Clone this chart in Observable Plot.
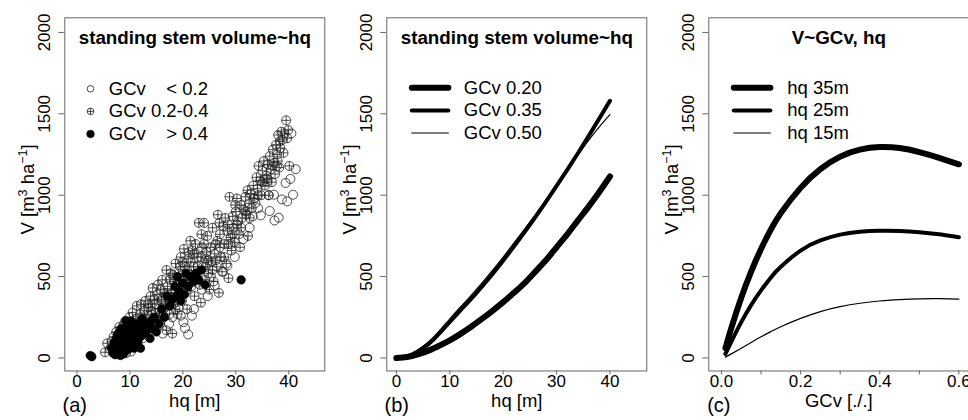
<!DOCTYPE html>
<html><head><meta charset="utf-8">
<script src="https://cdn.jsdelivr.net/npm/d3@7"></script>
<script src="https://cdn.jsdelivr.net/npm/@observablehq/plot@0.6"></script>
<style>
html,body{margin:0;padding:0;background:#fff;overflow:hidden;}
#fig{position:relative;width:968px;height:420px;overflow:hidden;font-family:"Liberation Sans",Arial,Helvetica,sans-serif;}
#fig > div{position:absolute;top:0;height:420px;}
</style></head><body><div id="fig"></div>
<script>
// ---------- data ----------
const yTicks = [0, 500, 1000, 1500, 2000];
const yTickLabels = ["0", "500", "1000", "1500", "2000"];
const hqTicks = [0, 10, 20, 30, 40];
const hqTickLabels = ["0", "10", "20", "30", "40"];
const gcvTicks = [0, 0.1, 0.2, 0.3, 0.4, 0.5, 0.6];
const gcvTickLabels = ["0.0", "", "0.2", "", "0.4", "", "0.6"];

const panelTitles = ["standing stem volume~hq", "standing stem volume~hq", "V~GCv, hq"];
const xTitles = ["hq [m]", "hq [m]", "GCv [./.]"];
const tags = ["(a)", "(b)", "(c)"];
const yTitle = "V [m3 ha-1]";

// panel (a) scatter: [hq, V]
const scatterLow = [ // GCv < 0.2
 [41.3,1160],[40.3,1100],[39.4,1075],[40.8,1003],[39.7,962],[38.7,974],[37.2,1003],[38.1,862],[37.3,845],[36.4,903],
 [34.7,876],[35.6,1101],[33.7,952],[35.9,1081],[37.8,1180],[40.5,1380],[29.8,620],[28.4,568],[26.0,445],[29.0,700],
 [25.3,500],[20.1,220],[20.4,183],[21.0,144],[19.6,260],[19.2,310],[18.5,340],[17.4,210],[16.2,150],[15.0,330],
 [13.6,260],[12.4,120],[10.8,90],[10.2,40],[9.3,30],[22.1,300],[23.6,420],[24.7,380],[27.6,530],[31.4,730],
 [32.6,800],[33.2,870],[34.2,920],[36.2,1000],[21.7,260],[20.8,420],[18.0,250],[14.4,200]
];
const scatterMid = [ // GCv 0.2-0.4
 [5.3,35],[5.7,90],[6.2,55],[6.6,100],[6.9,130],[7.1,65],[7.4,160],[7.8,110],[8.0,190],[8.3,140],[8.5,80],[8.8,170],[9.0,220],[9.2,120],[9.5,60],
 [9.7,180],[9.9,250],[10.1,130],[10.3,210],[10.5,280],[10.7,160],[10.9,90],[11.1,240],[11.3,320],[11.5,190],[11.7,140],[11.9,270],[12.1,330],[12.3,210],
 [12.5,170],[12.7,290],[12.9,350],[13.1,240],[13.3,140],[13.5,310],[13.7,200],[13.9,380],[14.1,270],[14.3,430],[14.5,180],[14.7,330],[14.9,250],[15.1,390],
 [15.3,450],[15.5,300],[15.7,210],[15.9,350],[16.1,480],[16.3,260],[16.5,400],[16.7,320],[16.9,170],[17.1,440],[17.3,360],[17.5,270],[17.7,520],[17.9,400],[18.0,150],[18.2,330],
 [18.4,470],[18.6,580],[18.8,380],[19.0,270],[19.2,520],[19.4,430],[19.6,620],[19.8,350],[20.0,480],[20.2,670],[20.4,560],[20.6,410],[20.8,300],[21.0,610],[21.2,500],
 [21.4,720],[21.6,440],[21.8,660],[22.0,560],[22.2,380],[22.4,700],[22.6,500],[22.8,620],[23.0,830],[23.2,450],[23.4,340],[23.6,680],[23.8,560],[24.0,830],[24.2,480],[24.4,610],
 [24.6,750],[24.8,520],[25.0,420],[25.2,680],[25.4,590],[25.6,800],[25.8,470],[26.0,640],[26.2,700],[26.4,560],[26.6,880],[26.8,400],[27.0,760],[27.2,620],[27.4,530],
 [27.6,810],[27.8,700],[28.0,860],[28.2,580],[28.4,780],[28.6,490],[28.8,990],[29.0,740],[29.2,660],[29.4,870],[29.6,800],[29.8,710],[30.0,900],[30.2,980],[30.4,840],
 [30.6,760],[30.8,680],[31.0,940],[31.2,860],[31.5,910],[31.8,990],[32.0,880],[32.3,750],[32.5,950],[32.8,1010],[33.0,920],[33.3,1060],
 [33.6,980],[33.9,1110],[34.1,1040],[34.3,1180],[34.6,1090],[34.8,1000],[35.0,1150],[35.3,1210],[35.5,1060],[35.8,1120],[36.0,1190],[36.2,1000],[36.4,1240],
 [36.6,1160],[36.8,1080],[37.0,1280],[37.2,1200],[37.4,1130],[37.6,1310],[37.8,1250],[38.0,1370],[38.2,1170],[38.4,1290],[38.6,1390],[38.8,1340],[39.0,1260],[39.2,1380],[39.5,1460],[39.7,1350],[39.9,1400],[40.1,1180],[38.3,1330],[37.9,1210],
 [14.0,290],[16.0,360],[18.5,420],[20.5,460],[22.5,520],[19.5,560],[21.5,590],[17.5,480],[15.5,260],[13.0,200],[11.0,170],[24.5,650],[26.5,720],[28.5,820],[23.5,760],
 [12.2,250],[13.4,330],[14.6,360],[15.8,420],[16.4,300],[17.0,400],[17.8,350],[18.6,300],[19.4,480],[20.2,420],[20.8,540],[21.6,480],[22.2,640],[22.8,560],[23.4,620],
 [24.0,700],[24.8,600],[25.6,540],[26.2,600],[27.0,680],[27.8,620],[28.6,700],[29.4,760],[30.2,820],[31.0,800],[31.8,900],[32.6,860],[33.4,980],[34.2,1000],[35.0,1080],
 [36.0,1100],[37.0,1180],[19.9,590],[21.1,650],[16.9,540],[18.1,510],[24.3,560],[26.9,830],[29.9,940],[32.2,1030]
];
const scatterHigh = [ // GCv > 0.4
 [2.5,15],[2.8,8],[6.5,60],[6.8,30],[7.0,95],[7.2,20],[7.4,50],[7.5,125],[7.7,70],[7.8,150],[8.0,30],[8.1,100],[8.3,180],[8.5,60],[8.6,135],[8.8,25],
 [9.0,90],[9.1,165],[9.2,230],[9.4,110],[9.6,50],[9.7,195],[9.9,140],[10.0,80],[10.2,225],[10.4,120],[10.6,175],[10.8,60],[11.0,140],[11.3,210],[11.5,100],
 [11.8,170],[12.0,130],[12.3,240],[12.6,190],[13.0,150],[13.4,210],[13.8,120],[14.2,180],[14.6,250],[15.0,160],[15.5,210],[16.0,300],[16.5,250],[17.0,380],
 [17.5,320],[18.0,360],[18.5,440],[18.8,380],[19.0,500],[19.3,410],[19.6,350],[20.0,460],[20.3,390],[20.6,520],[21.0,440],[21.5,500],[22.0,470],[22.5,520],
 [23.0,480],[23.5,540],[24.2,450],[31.0,480],[7.3,40],[8.2,15],[9.5,200],[10.5,150],[12.0,60],[14.0,230]
];
const scatterLegend = ["GCv    < 0.2", "GCv 0.2-0.4", "GCv    > 0.4"];

// panel (b): V over hq for three GCv levels
const hqGrid = [0,2,4,6,8,10,12,14,16,18,20,22,24,26,28,30,32,34,36,38,40];
const vGCv020 = [0,6,22,45,75,108,148,192,240,290,343,400,460,530,600,680,760,845,930,1020,1115];
const vGCv035 = [0,10,40,85,150,222,293,363,438,516,599,684,773,864,959,1057,1156,1258,1363,1471,1580];
const vGCv050 = [0,13,48,98,165,240,313,385,460,538,620,705,792,880,970,1063,1155,1247,1337,1420,1495];
const gcvLegend = ["GCv 0.20", "GCv 0.35", "GCv 0.50"];

// panel (c): V over GCv for three hq levels
const gcvGrid = [0.01,0.025,0.05,0.075,0.1,0.125,0.15,0.2,0.25,0.3,0.35,0.4,0.45,0.5,0.55,0.6];
const vHq35 = [60,185,370,530,670,790,890,1045,1160,1237,1280,1296,1290,1265,1230,1190];
const vHq25 = [25,100,220,325,415,495,560,660,722,758,775,781,780,773,760,742];
const vHq15 = [5,25,60,95,130,162,192,243,285,315,336,350,358,363,364,362];
const hqLegend = ["hq 35m", "hq 25m", "hq 15m"];

const lineWidths = [6, 4, 1.2];

// ---------- drawing ----------
const FONT = '"Liberation Sans", Arial, Helvetica, sans-serif';
const W = 326.3, H = 420, ML = 64.3, MR = 2, MT = 17.3, MB = 49.5;
const yDomain = [-80, 2090];
const BOX = "#666";

const circlePlus = {
  draw(ctx, size) {
    const r = Math.sqrt(size / Math.PI);
    ctx.moveTo(r, 0); ctx.arc(0, 0, r, 0, 2 * Math.PI);
    ctx.moveTo(-r, 0); ctx.lineTo(r, 0);
    ctx.moveTo(0, -r); ctx.lineTo(0, r);
  }
};
const hline = { draw(ctx) { ctx.moveTo(-18.3, 0); ctx.lineTo(18.3, 0); } };

function tickFmt(ticks, labels) {
  return d => { const i = ticks.findIndex(t => Math.abs(t - d) < 1e-9); return i < 0 ? "" : labels[i]; };
}

function panel(i, left, xDomain, xTicks, xLabels, marks) {
  const svg = Plot.plot({
    width: W, height: H, marginLeft: ML, marginRight: MR, marginTop: MT, marginBottom: MB,
    style: {background: "transparent", overflow: "visible", maxWidth: "none", fontFamily: FONT, color: "#000"},
    x: {domain: xDomain},
    y: {domain: yDomain},
    marks: [
      ...marks,
      Plot.frame({stroke: BOX, strokeWidth: 1}),
      Plot.axisX({ticks: xTicks, tickFormat: tickFmt(xTicks, xLabels), tickSize: 4, tickPadding: 0,
                  fontSize: 17, stroke: BOX, fill: "#000", label: null}),
      Plot.axisY({ticks: yTicks, tickSize: 6, stroke: BOX, fill: "none", label: null}),
      Plot.text(yTicks, {y: d => d, text: (d, j) => yTickLabels[j], frameAnchor: "left", dx: -20, rotate: -90,
                         textAnchor: "middle", lineAnchor: "middle", fontSize: 17, fill: "#000"}),
      Plot.text([yTitle], {text: d => d, frameAnchor: "left", dx: -37, dy: -5, rotate: -90,
                           textAnchor: "middle", lineAnchor: "middle", fontSize: 18.5, fill: "#000"}),
      Plot.text([panelTitles[i]], {text: d => d, frameAnchor: "top", dy: 20, fontWeight: "bold",
                                   fontSize: 18.8, lineAnchor: "middle", fill: "#000"}),
      Plot.text([xTitles[i]], {text: d => d, frameAnchor: "bottom", dy: 30, fontSize: 18.5,
                               lineAnchor: "middle", fill: "#000"}),
      Plot.text([tags[i]], {text: d => d, frameAnchor: "bottom-left", dx: 10, dy: 35, fontSize: 20,
                            textAnchor: "middle", lineAnchor: "middle", fill: "#000"})
    ]
  });
  svg.querySelectorAll("text").forEach(t => {
    if (t.textContent === yTitle) {
      t.innerHTML = 'V [m<tspan dy="-7" font-size="12.5">3</tspan><tspan dy="7"> ha</tspan><tspan dy="-7" font-size="12.5">\u22121</tspan><tspan dy="7">]</tspan>';
    }
    t.style.whiteSpace = "pre";
  });
  const div = document.createElement("div");
  div.style.left = left + "px";
  div.style.width = W + "px";
  div.appendChild(svg);
  document.getElementById("fig").appendChild(div);
}

const rowDy = k => 71 + 22.6 * k;

// panel (a)
const legendA = [];
[["circle", "none", 3.3], [circlePlus, "none", 3.3], ["circle", "#000", 3.8]].forEach(([sym, fill, r], k) => {
  legendA.push(Plot.dot([0], {frameAnchor: "top-left", dx: 25.7, dy: rowDy(k), r, symbol: sym,
                              stroke: "#222", strokeWidth: 0.8, fill}));
  legendA.push(Plot.text([scatterLegend[k]], {text: d => d, frameAnchor: "top-left", dx: 44, dy: rowDy(k),
                              textAnchor: "start", lineAnchor: "middle", fontSize: 18.5, fill: "#000"}));
});
panel(0, 0, [-2.3, 46.8], hqTicks, hqTickLabels, [
  Plot.dot(scatterMid, {x: d => d[0], y: d => d[1], r: 4.5, symbol: circlePlus, stroke: "#222", strokeWidth: 0.8, fill: "none"}),
  Plot.dot(scatterLow, {x: d => d[0], y: d => d[1], r: 4.5, symbol: "circle", stroke: "#222", strokeWidth: 0.8, fill: "none"}),
  Plot.dot(scatterHigh, {x: d => d[0], y: d => d[1], r: 4.3, symbol: "circle", stroke: "#000", strokeWidth: 0.5, fill: "#000"}),
  ...legendA
]);

// panel (b)
const seriesB = [vGCv020, vGCv035, vGCv050];
const marksB = [];
seriesB.forEach((vals, k) => {
  marksB.push(Plot.line(hqGrid.map((h, j) => ({hq: h, v: vals[j]})), {x: "hq", y: "v", stroke: "#000",
    strokeWidth: lineWidths[k], curve: "natural", strokeLinecap: "round", strokeLinejoin: "round"}));
});
gcvLegend.forEach((lab, k) => {
  marksB.push(Plot.dot([0], {frameAnchor: "top-left", dx: 43.3, dy: rowDy(k) - 1, r: 3, symbol: hline,
    stroke: "#000", strokeWidth: lineWidths[k], strokeLinecap: "round"}));
  marksB.push(Plot.text([lab], {text: d => d, frameAnchor: "top-left", dx: 77, dy: rowDy(k) - 1,
    textAnchor: "start", lineAnchor: "middle", fontSize: 18.5, fill: "#000"}));
});
panel(1, 322.4, [-1.8, 46.9], hqTicks, hqTickLabels, marksB);

// panel (c)
const seriesC = [vHq35, vHq25, vHq15];
const marksC = [];
seriesC.forEach((vals, k) => {
  marksC.push(Plot.line(gcvGrid.map((g, j) => ({g, v: vals[j]})), {x: "g", y: "v", stroke: "#000",
    strokeWidth: lineWidths[k], curve: "natural", strokeLinecap: "round", strokeLinejoin: "round"}));
});
hqLegend.forEach((lab, k) => {
  marksC.push(Plot.dot([0], {frameAnchor: "top-left", dx: 43.3, dy: rowDy(k) - 1, r: 3, symbol: hline,
    stroke: "#000", strokeWidth: lineWidths[k], strokeLinecap: "round"}));
  marksC.push(Plot.text([lab], {text: d => d, frameAnchor: "top-left", dx: 78.4, dy: rowDy(k) - 1,
    textAnchor: "start", lineAnchor: "middle", fontSize: 18.5, fill: "#000"}));
});
panel(2, 644, [-0.032, 0.625], gcvTicks, gcvTickLabels, marksC);
</script></body></html>
